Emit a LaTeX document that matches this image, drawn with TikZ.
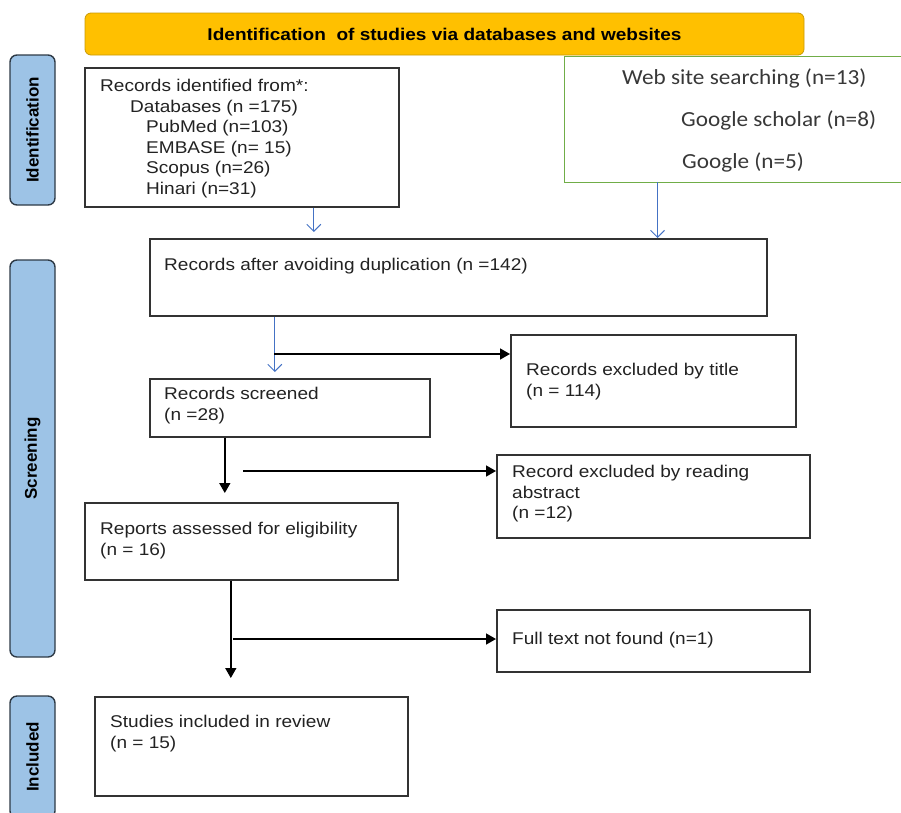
\documentclass[tikz,border=0pt]{standalone}
\usepackage{fontspec}
\setmainfont{Liberation Sans}[FakeStretch=1.12]
\newfontfamily\sidefont{Liberation Sans}
\newfontfamily\webfont{Carlito}[FakeStretch=1.08]
\usetikzlibrary{arrows.meta,positioning}
\definecolor{bannerfill}{HTML}{FFC000}
\definecolor{bannerline}{HTML}{C99A06}
\definecolor{sidefill}{HTML}{9DC3E6}
\definecolor{sideline}{HTML}{2E3A46}
\definecolor{webline}{HTML}{70AD47}
\definecolor{blueline}{HTML}{4472C4}
\definecolor{boxline}{HTML}{333333}
\definecolor{textgray}{HTML}{222222}
\tikzset{
  box/.style      = {draw=boxline, line width=1.6pt, anchor=north west, inner sep=0pt},
  txt/.style      = {anchor=north west, inner sep=0pt, align=left, text=textgray,
                     font=\fontsize{17}{20.6}\selectfont},
  webtxt/.style   = {anchor=north west, inner sep=0pt, text=textgray!90,
                     font=\webfont\fontsize{21.5}{26}\selectfont},
  sidebox/.style  = {draw=sideline, fill=sidefill, line width=1.4pt, rounded corners=7pt,
                     rotate=90, minimum height=45pt,
                     font=\sidefont\bfseries\fontsize{17}{20}\selectfont},
  bluearrow/.style  = {draw=blueline, line width=1pt, -{Straight Barb[length=7pt,width=14pt]}},
  blackarrow/.style = {draw=black, line width=1.5pt, -{Triangle[length=10pt,width=11pt]}}
}
\begin{document}
\begin{tikzpicture}[x=1pt, y=-1pt]
  \useasboundingbox (0,0) rectangle (901,812);
  \clip (0,0) rectangle (901,812);

  % phase labels on the left
  \node[sidebox, minimum width=150pt] (sideid)  at (32.5,130)   {Identification};
  \node[sidebox, minimum width=397pt] (sidescr) at (32.5,458.5) {Screening};
  \node[sidebox, minimum width=122pt] (sideinc) at (32.5,757)   {Included};

  % banner
  \node[draw=bannerline, fill=bannerfill, line width=0.8pt, rounded corners=6pt,
        minimum width=719pt, minimum height=42pt,
        font=\bfseries\fontsize{17}{20}\selectfont] (head) at (444.5,34)
       {Identification\ \ of studies via databases and websites};

  % boxes
  \node[box, minimum width=314pt, minimum height=139pt] (ident)    at (84,67)   {};
  \node[box, draw=webline, line width=1pt,
        minimum width=341pt, minimum height=126pt]     (web)      at (564,56)  {};
  \node[box, minimum width=617pt, minimum height=77pt]  (dup)      at (149,238) {};
  \node[box, minimum width=285pt, minimum height=92pt]  (title)    at (510,334) {};
  \node[box, minimum width=280pt, minimum height=58pt]  (screened) at (149,378) {};
  \node[box, minimum width=313pt, minimum height=83pt]  (abstract) at (496,454) {};
  \node[box, minimum width=313pt, minimum height=77pt]  (reports)  at (84,502)  {};
  \node[box, minimum width=313pt, minimum height=62pt]  (full)     at (496,609) {};
  \node[box, minimum width=313pt, minimum height=99pt]  (included) at (94,696)  {};

  % texts
  \node[txt] (identtxt) at ([shift={(16,12)}]ident.north west)
    {Records identified from*:\\
     \hspace*{30pt}Databases (n =175)\\
     \hspace*{46pt}PubMed (n=103)\\
     \hspace*{46pt}EMBASE (n= 15)\\
     \hspace*{46pt}Scopus (n=26)\\
     \hspace*{46pt}Hinari (n=31)};
  \node[webtxt] (web1) at (622,69)  {Web site searching (n=13)};
  \node[webtxt] (web2) at (681,111) {Google scholar (n=8)};
  \node[webtxt] (web3) at (682,153) {Google (n=5)};
  \node[txt] (duptxt)      at ([shift={(15,20)}]dup.north west)
    {Records after avoiding duplication (n =142)};
  \node[txt] (titletxt)    at ([shift={(16,29)}]title.north west)
    {Records excluded by title\\(n = 114)};
  \node[txt] (screenedtxt) at ([shift={(15,9)}]screened.north west)
    {Records screened\\(n =28)};
  \node[txt] (abstracttxt) at ([shift={(16,11)}]abstract.north west)
    {Record excluded by reading\\abstract\\(n =12)};
  \node[txt] (reportstxt)  at ([shift={(16,20)}]reports.north west)
    {Reports assessed for eligibility\\(n = 16)};
  \node[txt] (fulltxt)     at ([shift={(16,23)}]full.north west)
    {Full text not found (n=1)};
  \node[txt] (includedtxt) at ([shift={(16,19)}]included.north west)
    {Studies included in review\\(n = 15)};

  % connectors
  \coordinate (webdrop) at (657.5,182);
  \coordinate (split1)  at (274,354);
  \coordinate (split2)  at (243,471);
  \coordinate (split3)  at (233,639);

  \draw[bluearrow, shorten >=6pt] ([xshift=72pt]ident.south)
    -- ([xshift=72pt]ident.south |- dup.north);
  \draw[bluearrow] (webdrop) -- (webdrop |- dup.north);
  \draw[bluearrow, shorten >=6pt] ([xshift=-15pt]screened.north |- dup.south)
    -- ([xshift=-15pt]screened.north);
  \draw[blackarrow] (split1) -- (split1 -| title.west);

  \draw[blackarrow, shorten >=9pt] ([xshift=-65pt]screened.south)
    -- ([xshift=-65pt]screened.south |- reports.north);
  \draw[blackarrow] (split2) -- (split2 -| abstract.west);

  \draw[blackarrow, shorten >=18pt] ([xshift=-10.5pt]reports.south)
    -- ([xshift=-10.5pt]reports.south |- included.north);
  \draw[blackarrow] (split3) -- (split3 -| full.west);
\end{tikzpicture}
\end{document}
